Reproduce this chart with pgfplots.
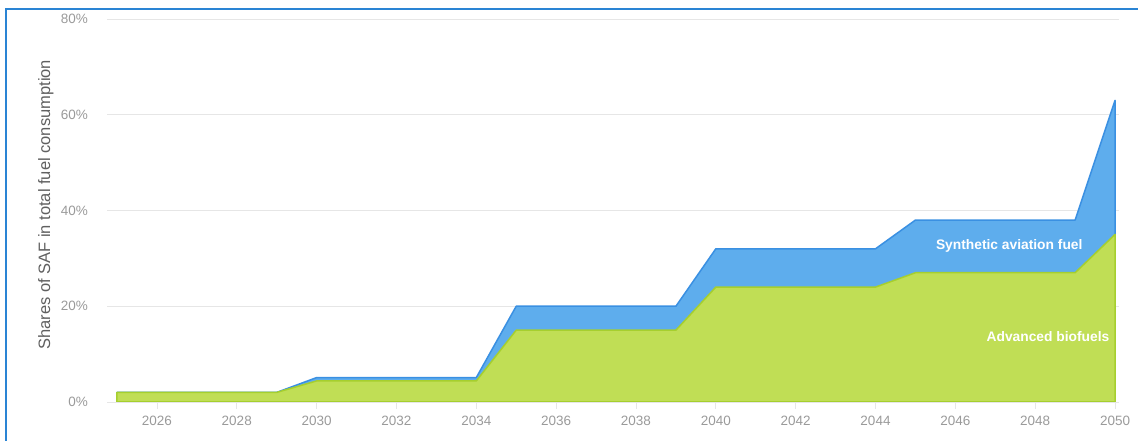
\documentclass[border=0pt]{standalone}
\usepackage{fontspec}
\setmainfont{Liberation Sans}
\usepackage{pgfplots}
\pgfplotsset{compat=1.18}
\definecolor{greenfill}{HTML}{C0DE55}
\definecolor{greenline}{HTML}{A6CF2E}
\definecolor{bluefill}{HTML}{5EADED}
\definecolor{blueline}{HTML}{3A90E2}
\definecolor{framecol}{HTML}{2A84D4}
\definecolor{gridcol}{HTML}{E6E6E6}
\definecolor{tickcol}{HTML}{9A9A9A}
\definecolor{labcol}{HTML}{606060}

\pgfplotstableread{
year green total
2025 2.0 2.0
2026 2.0 2.0
2027 2.0 2.0
2028 2.0 2.0
2029 2.0 2.0
2030 4.4 5.1
2031 4.4 5.1
2032 4.4 5.1
2033 4.4 5.1
2034 4.4 5.1
2035 15.0 20.0
2036 15.0 20.0
2037 15.0 20.0
2038 15.0 20.0
2039 15.0 20.0
2040 24.0 32.0
2041 24.0 32.0
2042 24.0 32.0
2043 24.0 32.0
2044 24.0 32.0
2045 27.0 38.0
2046 27.0 38.0
2047 27.0 38.0
2048 27.0 38.0
2049 27.0 38.0
2050 35.0 63.0
}\saf

\begin{document}
\begin{tikzpicture}
\useasboundingbox (0pt,0pt) rectangle (1138pt,441pt);
\draw[framecol, line width=2pt] (5.8pt,0pt) -- (5.8pt,431.7pt) -- (1138pt,431.7pt);
\begin{axis}[
  at={(107pt,39pt)}, anchor=south west,
  scale only axis, width=1012pt, height=383pt,
  xmin=2024.75, xmax=2050.1, ymin=0, ymax=80,
  axis x line*=bottom, axis y line*=left,
  axis line style={-},
  x axis line style={gridcol, line width=0.8pt},
  y axis line style={draw=none},
  ytick={0,20,40,60,80},
  yticklabel={\pgfmathprintnumber{\tick}\%},
  ymajorgrids, grid style={gridcol, line width=0.8pt},
  xtick={2026,2028,...,2050},
  /pgf/number format/.cd, 1000 sep={}, assume math mode=true, /pgfplots/.cd,
  x tick style={gridcol, line width=0.8pt},
  y tick style={draw=none},
  xtick align=outside, major tick length=7pt,
  ticklabel style={font=\fontsize{13.5}{15}\selectfont, text=tickcol},
  yticklabel style={inner sep=0pt, xshift=-19pt},
  xticklabel style={inner sep=0pt, yshift=-6.5pt},
  ylabel={Shares of SAF in total fuel consumption},
  ylabel style={font=\fontsize{16.5}{19}\selectfont, text=labcol,
    at={(axis description cs:-0.0603,0.5150)}, anchor=center},
]
\addplot[draw=blueline, line width=1.5pt, line join=round, fill=bluefill] table[x=year, y=total] {\saf} \closedcycle;
\addplot[draw=greenline, line width=1.5pt, line join=round, fill=greenfill] table[x=year, y=green] {\saf} \closedcycle;
\node[text=white, font=\bfseries\fontsize{13.8}{16}\selectfont] at (axis cs:2047.35,32.6) {Synthetic aviation fuel};
\node[text=white, font=\bfseries\fontsize{13.8}{16}\selectfont] at (axis cs:2048.32,13.6) {Advanced biofuels};
\end{axis}
\end{tikzpicture}
\end{document}
